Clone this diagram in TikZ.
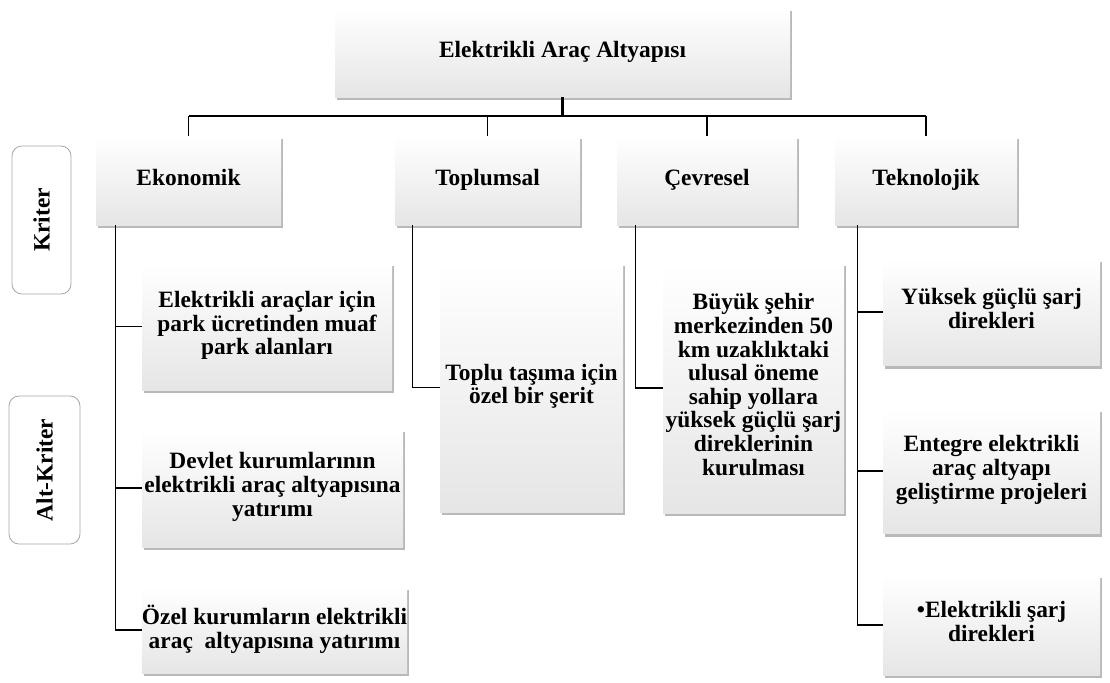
\documentclass[tikz,border=0pt]{standalone}
\usepackage{fontspec}
\setmainfont{Liberation Serif}
\usetikzlibrary{shadows}
\begin{document}
\begin{tikzpicture}[x=0.5pt,y=-0.5pt,
	kutu/.style={top color=white, bottom color=gray!20, inner sep=0pt, align=center,
		drop shadow={shadow xshift=1.2pt, shadow yshift=-1.6pt, fill=black!50, opacity=.55},
		execute at begin node=\strut, execute at end node=\strut,
		font=\fontsize{11.7}{11.8}\selectfont\bfseries},
	etiket/.style={draw=gray!70, fill=white, rounded corners=5pt, inner sep=0pt, rotate=90,
		font=\fontsize{11.7}{11.8}\selectfont\bfseries},
	hat/.style={line width=0.8pt}]

\useasboundingbox (0,0) rectangle (1110,682);

% ana baslik
\node[kutu, minimum width=227.5pt, minimum height=44.5pt] (kok) at (562.5,52.5) {Elektrikli Araç Altyapısı};

% kriterler
\node[kutu, minimum width=92.5pt, minimum height=44.5pt] (eko) at (188.5,180.5) {Ekonomik};
\node[kutu, minimum width=92.5pt, minimum height=44.5pt] (top) at (487.5,180.5) {Toplumsal};
\node[kutu, minimum width=90pt, minimum height=44.5pt] (cev) at (707,180.5) {Çevresel};
\node[kutu, minimum width=91pt, minimum height=44.5pt] (tek) at (926,180.5) {Teknolojik};

\node[etiket, minimum width=74pt, minimum height=29.5pt] (kriter) at (41.5,220) {Kriter};
\node[etiket, minimum width=74pt, minimum height=35.5pt] (altkriter) at (44.5,470) {Alt-Kriter};

% alt kriterler
\node[kutu, minimum width=125pt, minimum height=63.5pt] (e1) at (267,326.5) {Elektrikli araçlar için\\park ücretinden muaf\\park alanları};
\node[kutu, minimum width=130.5pt, minimum height=59pt] (e2) at (272.5,488) {Devlet kurumlarının\\elektrikli araç altyapısına\\yatırımı};
\node[kutu, minimum width=132.5pt, minimum height=43pt] (e3) at (274.5,630) {Özel kurumların elektrikli\\araç\ \ altyapısına yatırımı};

\node[kutu, minimum width=91.5pt, minimum height=124.5pt] (t1) at (531.5,387.5) {Toplu taşıma için\\özel bir şerit};

\node[kutu, minimum width=90.5pt, minimum height=125pt] (c1) at (753.5,388) {Büyük şehir\\merkezinden 50\\km uzaklıktaki\\ulusal öneme\\sahip yollara\\yüksek güçlü şarj\\direklerinin\\kurulması};

\node[kutu, minimum width=108.5pt, minimum height=53.5pt] (k1) at (991.5,312) {Yüksek güçlü şarj\\direkleri};
\node[kutu, minimum width=108.5pt, minimum height=62.5pt] (k2) at (991.5,471) {Entegre elektrikli\\araç altyapı\\geliştirme projeleri};
\node[kutu, minimum width=108.5pt, minimum height=50pt] (k3) at (991.5,625) {•Elektrikli şarj\\direkleri};

% baglantilar
\coordinate (bar) at (0,116);
\draw[line width=1.5pt] (kok.south) -- (kok.south |- bar);
\draw[hat] (eko.north |- bar) -- (tek.north |- bar);
\foreach \n in {eko,top,cev,tek}
	\draw[hat] (\n.north |- bar) -- (\n.north);

\foreach \s in {e1,e2,e3}
	\draw[hat] ([xshift=10pt]eko.south west) |- (\s.west);
\draw[hat] ([xshift=9pt]top.south west) |- (t1.west);
\draw[hat] ([xshift=9.5pt]cev.south west) |- (c1.west);
\foreach \s in {k1,k2,k3}
	\draw[hat] ([xshift=11.5pt]tek.south west) |- (\s.west);

\end{tikzpicture}
\end{document}
